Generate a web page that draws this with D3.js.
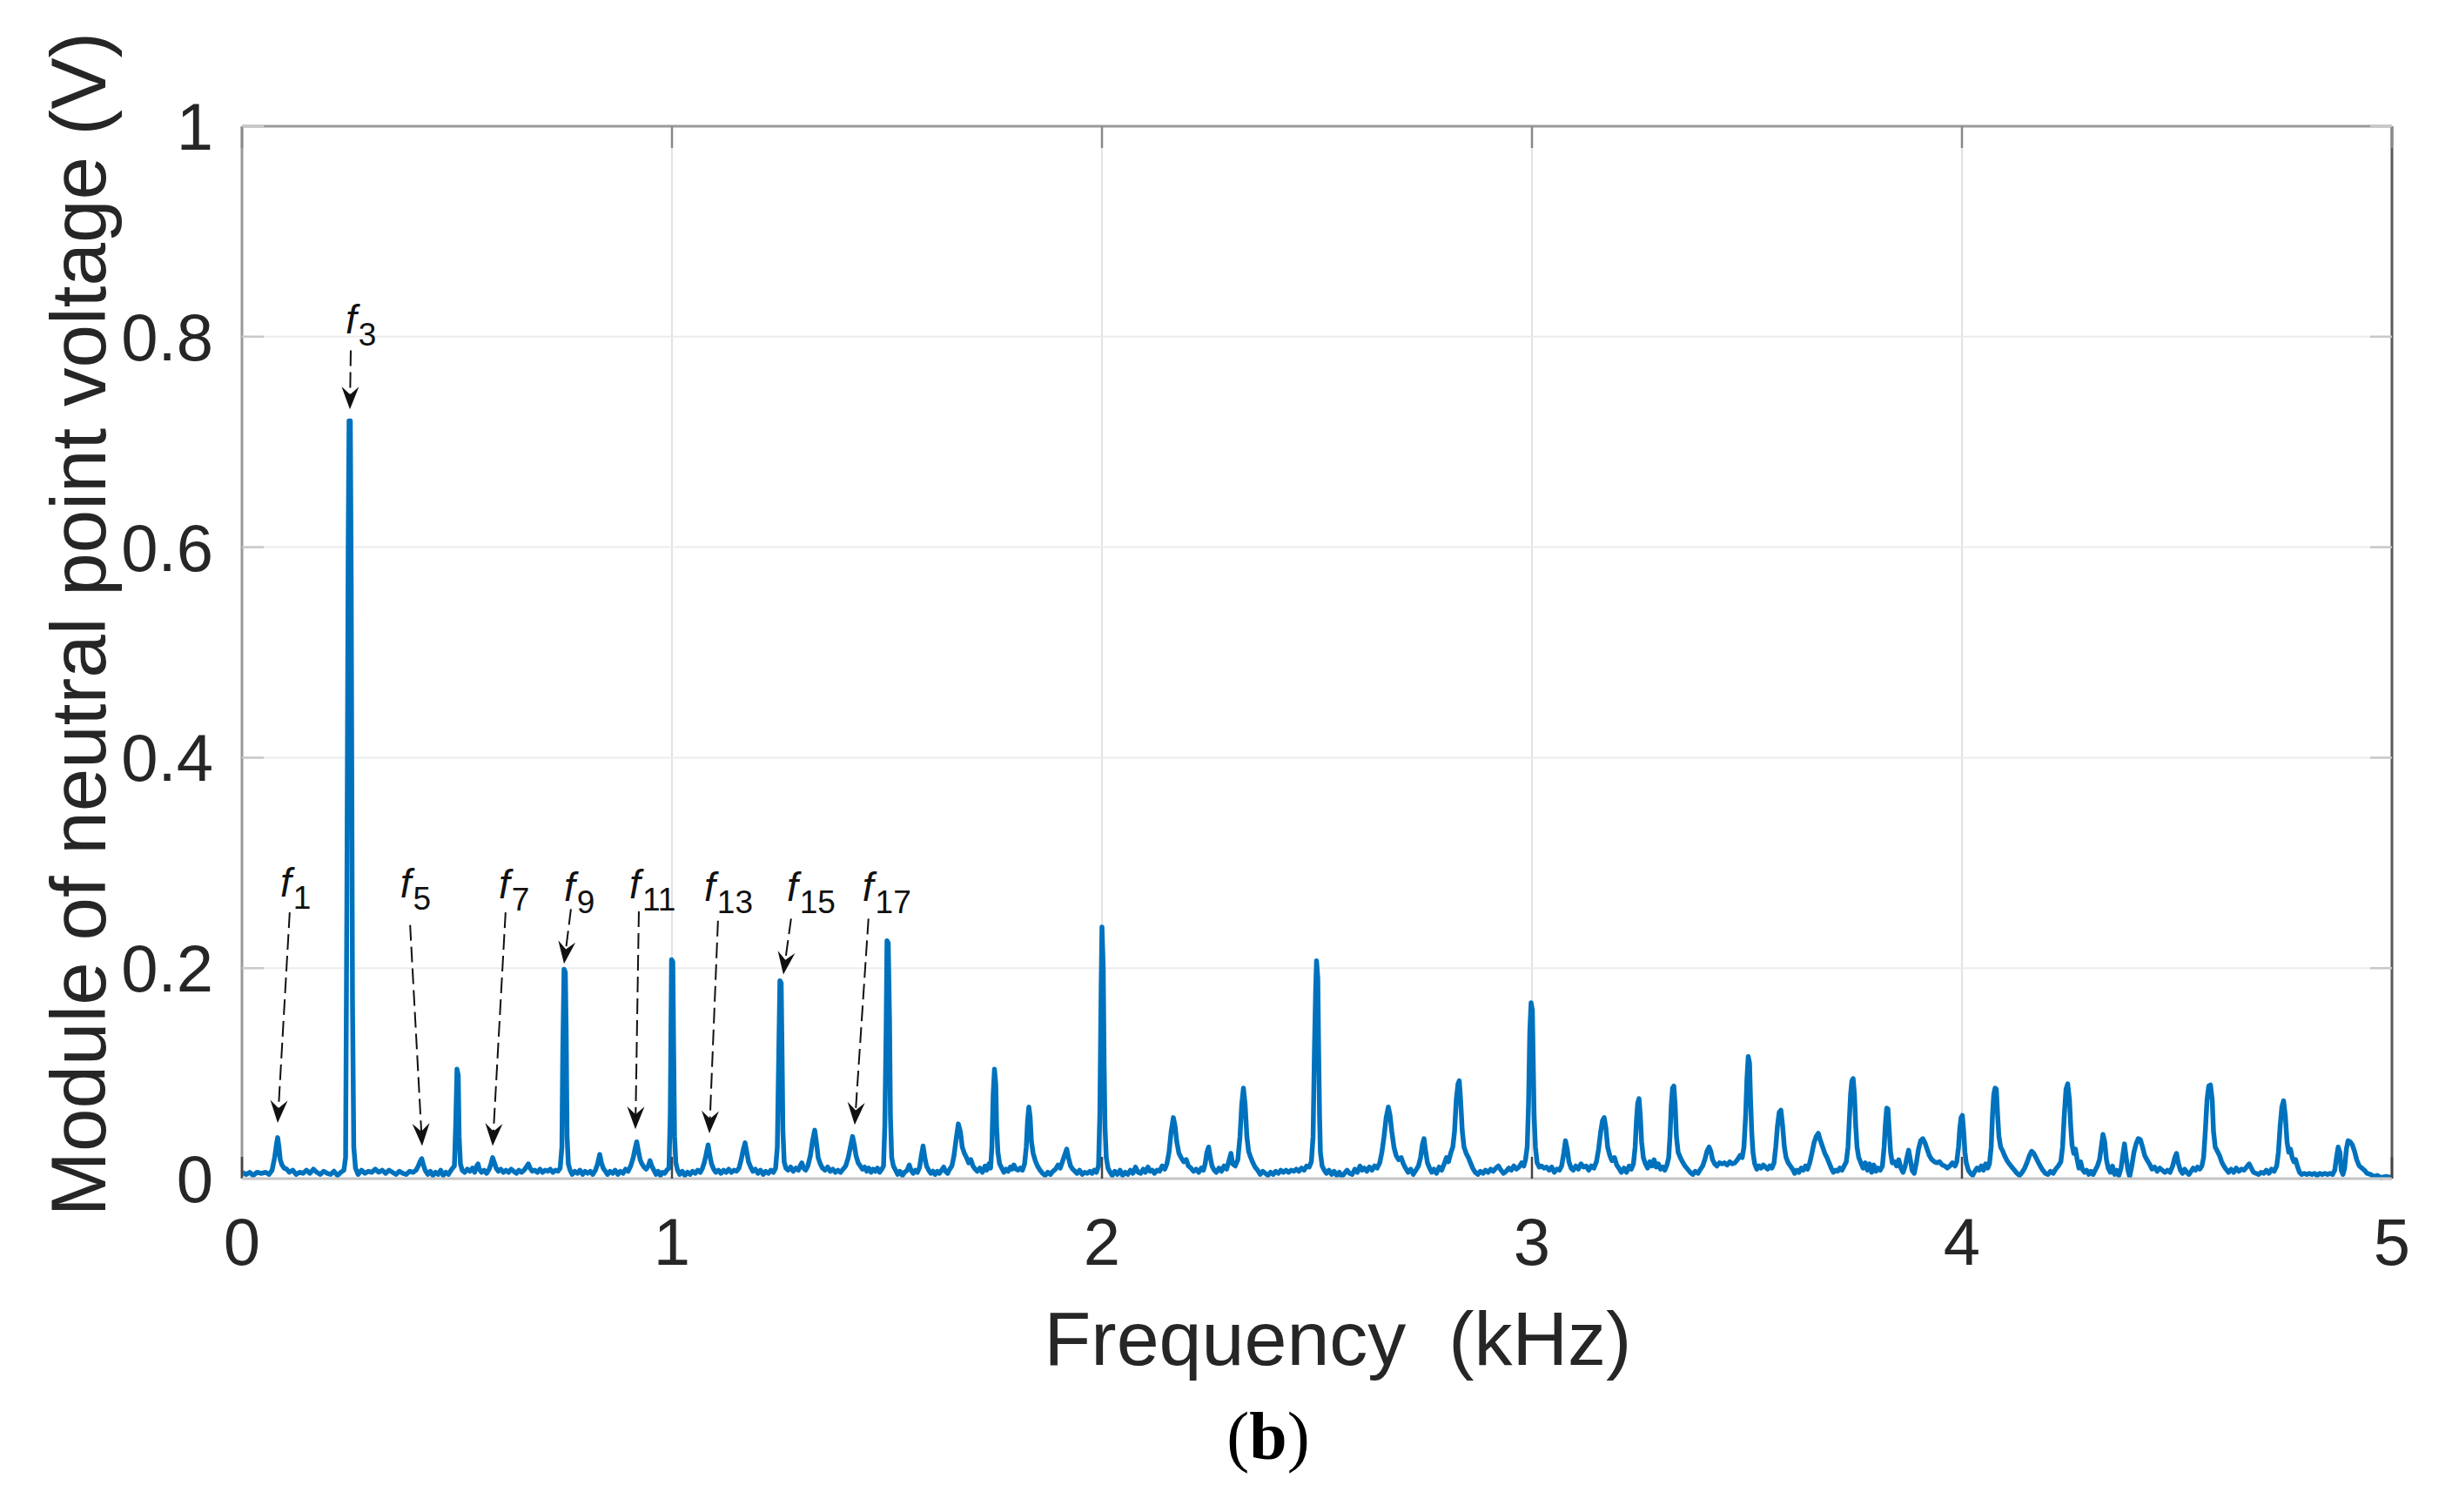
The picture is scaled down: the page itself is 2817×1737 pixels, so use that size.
<!DOCTYPE html>
<html>
<head>
<meta charset="utf-8">
<script src="https://cdn.jsdelivr.net/npm/d3@7"></script>
<style>
  html, body { margin: 0; padding: 0; background: #fff; }
  svg { display: block; }
</style>
</head>
<body>
<svg id="chart" width="2817" height="1737"></svg>
<script>
// ---------------- DATA ----------------
const xTicks = [0, 1, 2, 3, 4, 5];
const yTicks = [0, 0.2, 0.4, 0.6, 0.8, 1];
const yTickLabels = ["0", "0.2", "0.4", "0.6", "0.8", "1"];
const xLabel = "Frequency  (kHz)";
const yLabel = "Module of neutral point voltage (V)";
const panelLabel = "b";

// spectrum: [frequency (kHz), module (V)]
const spectrum = [
[0.000,0.006],[0.010,0.004],[0.018,0.006],[0.026,0.003],[0.035,0.006],[0.045,0.005],[0.055,0.006],[0.063,0.004],[0.070,0.008],[0.076,0.020],[0.080,0.032],[0.083,0.039],[0.086,0.030],[0.089,0.018],[0.093,0.013],[0.098,0.010],[0.104,0.009],[0.110,0.006],[0.118,0.008],[0.126,0.004],[0.134,0.006],[0.142,0.005],[0.150,0.008],[0.158,0.005],[0.166,0.009],[0.174,0.006],[0.182,0.004],[0.190,0.007],[0.198,0.005],[0.206,0.004],[0.214,0.007],[0.222,0.003],[0.230,0.006],[0.237,0.008],[0.241,0.020],[0.244,0.27],[0.247,0.60],[0.249,0.72],[0.252,0.72],[0.254,0.57],[0.257,0.17],[0.260,0.03],[0.264,0.010],[0.270,0.004],[0.278,0.008],[0.286,0.005],[0.294,0.007],[0.302,0.006],[0.310,0.009],[0.318,0.006],[0.326,0.008],[0.334,0.005],[0.342,0.008],[0.350,0.006],[0.358,0.004],[0.366,0.007],[0.374,0.005],[0.382,0.004],[0.390,0.007],[0.398,0.006],[0.405,0.008],[0.410,0.012],[0.414,0.016],[0.418,0.019],[0.422,0.013],[0.426,0.008],[0.432,0.004],[0.438,0.007],[0.444,0.003],[0.450,0.006],[0.456,0.004],[0.462,0.008],[0.468,0.003],[0.474,0.006],[0.480,0.004],[0.488,0.009],[0.494,0.012],[0.497,0.050],[0.500,0.104],[0.503,0.098],[0.505,0.040],
[0.508,0.014],[0.512,0.008],[0.518,0.006],[0.524,0.009],[0.530,0.007],[0.536,0.010],[0.541,0.006],[0.546,0.012],[0.549,0.014],[0.552,0.009],[0.557,0.006],[0.563,0.008],[0.569,0.005],[0.575,0.009],[0.579,0.014],[0.583,0.020],[0.587,0.015],[0.591,0.010],[0.596,0.007],[0.602,0.009],[0.608,0.006],[0.614,0.008],[0.620,0.006],[0.626,0.009],[0.632,0.007],[0.638,0.005],[0.644,0.008],[0.650,0.006],[0.656,0.008],[0.661,0.011],[0.666,0.014],[0.670,0.010],[0.675,0.007],[0.681,0.008],[0.687,0.006],[0.693,0.009],[0.699,0.006],[0.705,0.008],[0.711,0.007],[0.717,0.009],[0.723,0.006],[0.729,0.008],[0.735,0.007],[0.740,0.010],[0.744,0.030],[0.746,0.120],[0.749,0.199],[0.752,0.196],[0.754,0.140],[0.756,0.040],[0.759,0.014],[0.763,0.008],[0.768,0.004],[0.774,0.007],[0.780,0.005],[0.786,0.008],[0.792,0.004],[0.798,0.007],[0.804,0.005],[0.810,0.007],[0.816,0.004],[0.822,0.008],[0.827,0.014],[0.832,0.023],[0.836,0.015],[0.840,0.010],[0.845,0.007],[0.850,0.004],[0.856,0.007],[0.862,0.005],[0.868,0.008],[0.874,0.004],[0.880,0.007],[0.886,0.005],[0.892,0.009],[0.898,0.007],[0.904,0.012],[0.910,0.020],[0.914,0.028],[0.918,0.035],[0.922,0.026],[0.926,0.018],[0.930,0.014],[0.935,0.011],[0.940,0.009],[0.945,0.012],[0.949,0.017],[0.953,0.012],[0.958,0.008],[0.963,0.004],[0.968,0.007],[0.973,0.003],[0.978,0.006],[0.983,0.005],[0.988,0.008],[0.993,0.010],[0.996,0.060],[0.999,0.208],[1.002,0.206],[1.004,0.120],[1.006,0.040],
[1.009,0.015],[1.013,0.008],[1.018,0.004],[1.024,0.007],[1.030,0.003],[1.036,0.006],[1.042,0.004],[1.048,0.007],[1.054,0.005],[1.060,0.008],[1.066,0.006],[1.071,0.010],[1.075,0.015],[1.079,0.022],[1.084,0.032],[1.088,0.022],[1.092,0.014],[1.097,0.009],[1.102,0.006],[1.108,0.008],[1.114,0.005],[1.120,0.008],[1.126,0.006],[1.132,0.009],[1.138,0.006],[1.144,0.008],[1.150,0.007],[1.156,0.010],[1.161,0.018],[1.166,0.028],[1.170,0.034],[1.174,0.025],[1.178,0.016],[1.183,0.011],[1.188,0.007],[1.194,0.009],[1.200,0.005],[1.206,0.008],[1.212,0.004],[1.218,0.007],[1.224,0.005],[1.230,0.008],[1.236,0.006],[1.241,0.010],[1.245,0.030],[1.248,0.110],[1.251,0.188],[1.254,0.186],[1.256,0.120],[1.258,0.045],[1.261,0.016],[1.265,0.010],[1.270,0.008],[1.276,0.011],[1.282,0.007],[1.288,0.010],[1.294,0.008],[1.298,0.012],[1.302,0.015],[1.306,0.010],[1.311,0.008],[1.316,0.012],[1.322,0.022],[1.327,0.036],[1.332,0.046],[1.336,0.034],[1.340,0.020],[1.345,0.014],[1.350,0.010],[1.356,0.008],[1.362,0.011],[1.368,0.007],[1.374,0.009],[1.380,0.006],[1.386,0.008],[1.392,0.006],[1.398,0.009],[1.404,0.012],[1.410,0.020],[1.415,0.030],[1.420,0.040],[1.424,0.032],[1.428,0.022],[1.433,0.015],[1.438,0.012],[1.443,0.009],[1.448,0.011],[1.453,0.007],[1.458,0.010],[1.463,0.006],[1.468,0.009],[1.473,0.007],[1.478,0.010],[1.483,0.006],[1.488,0.009],[1.492,0.012],[1.495,0.050],[1.498,0.140],[1.500,0.226],[1.503,0.224],[1.506,0.150],[1.508,0.060],
[1.511,0.020],[1.515,0.012],[1.520,0.008],[1.525,0.004],[1.530,0.007],[1.536,0.003],[1.541,0.006],[1.547,0.008],[1.552,0.013],[1.556,0.008],[1.561,0.005],[1.566,0.008],[1.571,0.006],[1.576,0.011],[1.580,0.022],[1.584,0.031],[1.588,0.020],[1.592,0.012],[1.597,0.008],[1.602,0.005],[1.607,0.007],[1.612,0.004],[1.617,0.007],[1.622,0.005],[1.627,0.008],[1.632,0.011],[1.636,0.007],[1.641,0.005],[1.646,0.009],[1.651,0.012],[1.656,0.022],[1.661,0.038],[1.666,0.052],[1.671,0.044],[1.675,0.030],[1.680,0.024],[1.685,0.020],[1.690,0.015],[1.695,0.018],[1.700,0.012],[1.705,0.009],[1.710,0.007],[1.716,0.010],[1.722,0.006],[1.728,0.012],[1.732,0.008],[1.737,0.014],[1.741,0.010],[1.744,0.030],[1.747,0.080],[1.750,0.104],[1.753,0.090],[1.755,0.050],[1.758,0.025],[1.762,0.014],[1.767,0.010],[1.772,0.006],[1.777,0.009],[1.782,0.007],[1.787,0.011],[1.791,0.009],[1.795,0.013],[1.800,0.009],[1.805,0.008],[1.810,0.010],[1.815,0.008],[1.820,0.014],[1.824,0.030],[1.827,0.055],[1.830,0.068],[1.833,0.058],[1.836,0.035],[1.840,0.024],[1.845,0.017],[1.850,0.012],[1.856,0.008],[1.862,0.005],[1.868,0.003],[1.874,0.006],[1.880,0.004],[1.886,0.007],[1.892,0.009],[1.898,0.013],[1.903,0.010],[1.908,0.016],[1.913,0.022],[1.918,0.028],[1.922,0.020],[1.927,0.012],[1.932,0.009],[1.937,0.007],[1.942,0.005],[1.948,0.008],[1.954,0.004],[1.960,0.006],[1.966,0.005],[1.972,0.007],[1.977,0.005],[1.982,0.008],[1.987,0.006],[1.992,0.012],[1.995,0.060],[1.998,0.180],[2.000,0.239],[2.003,0.200],[2.005,0.110],[2.007,0.050],
[2.010,0.020],[2.014,0.010],[2.019,0.006],[2.024,0.003],[2.030,0.007],[2.036,0.004],[2.042,0.008],[2.048,0.003],[2.054,0.006],[2.060,0.004],[2.066,0.008],[2.072,0.005],[2.078,0.011],[2.084,0.006],[2.090,0.005],[2.096,0.009],[2.101,0.006],[2.107,0.011],[2.112,0.007],[2.117,0.008],[2.122,0.005],[2.128,0.008],[2.134,0.007],[2.140,0.012],[2.146,0.009],[2.151,0.014],[2.156,0.025],[2.161,0.045],[2.166,0.058],[2.170,0.050],[2.174,0.035],[2.179,0.024],[2.184,0.020],[2.190,0.016],[2.196,0.018],[2.201,0.012],[2.207,0.010],[2.213,0.007],[2.219,0.009],[2.225,0.006],[2.231,0.010],[2.236,0.008],[2.240,0.014],[2.244,0.025],[2.248,0.030],[2.252,0.020],[2.256,0.012],[2.261,0.008],[2.266,0.006],[2.272,0.010],[2.278,0.007],[2.284,0.012],[2.290,0.009],[2.296,0.018],[2.300,0.024],[2.304,0.014],[2.310,0.012],[2.316,0.018],[2.321,0.040],[2.325,0.070],[2.329,0.086],[2.333,0.070],[2.337,0.040],[2.341,0.026],[2.346,0.020],[2.351,0.015],[2.356,0.011],[2.362,0.008],[2.368,0.004],[2.374,0.007],[2.380,0.005],[2.386,0.003],[2.392,0.006],[2.398,0.004],[2.404,0.007],[2.410,0.005],[2.416,0.008],[2.422,0.006],[2.428,0.008],[2.434,0.006],[2.440,0.008],[2.446,0.007],[2.452,0.009],[2.458,0.007],[2.464,0.010],[2.470,0.008],[2.476,0.012],[2.482,0.011],[2.487,0.016],[2.491,0.040],[2.494,0.120],[2.497,0.180],[2.499,0.207],[2.502,0.190],[2.504,0.120],[2.506,0.060],
[2.508,0.025],[2.512,0.012],[2.517,0.008],[2.522,0.005],[2.528,0.008],[2.534,0.004],[2.540,0.007],[2.546,0.003],[2.552,0.006],[2.558,0.002],[2.564,0.005],[2.570,0.008],[2.576,0.005],[2.582,0.004],[2.588,0.009],[2.594,0.006],[2.600,0.012],[2.605,0.008],[2.610,0.010],[2.616,0.007],[2.622,0.011],[2.628,0.008],[2.634,0.012],[2.640,0.010],[2.646,0.015],[2.651,0.025],[2.656,0.040],[2.661,0.058],[2.666,0.068],[2.670,0.060],[2.674,0.045],[2.679,0.030],[2.684,0.022],[2.690,0.018],[2.696,0.020],[2.701,0.014],[2.706,0.010],[2.712,0.006],[2.718,0.009],[2.724,0.004],[2.730,0.008],[2.736,0.012],[2.741,0.020],[2.745,0.032],[2.749,0.038],[2.753,0.025],[2.757,0.015],[2.762,0.010],[2.767,0.006],[2.772,0.009],[2.778,0.005],[2.784,0.011],[2.790,0.008],[2.796,0.014],[2.801,0.020],[2.806,0.016],[2.811,0.024],[2.816,0.030],[2.820,0.045],[2.824,0.075],[2.828,0.090],[2.831,0.093],[2.834,0.075],[2.838,0.045],[2.842,0.030],[2.847,0.024],[2.852,0.020],[2.857,0.015],[2.862,0.010],[2.868,0.006],[2.874,0.004],[2.880,0.007],[2.886,0.005],[2.892,0.008],[2.898,0.006],[2.904,0.009],[2.910,0.007],[2.916,0.010],[2.922,0.012],[2.928,0.008],[2.934,0.005],[2.940,0.007],[2.946,0.010],[2.952,0.008],[2.958,0.012],[2.964,0.009],[2.970,0.011],[2.976,0.015],[2.981,0.012],[2.985,0.018],[2.989,0.030],[2.992,0.070],[2.995,0.140],[2.998,0.167],[3.001,0.160],[3.003,0.110],[3.005,0.060],
[3.008,0.030],[3.012,0.015],[3.017,0.011],[3.022,0.012],[3.028,0.010],[3.034,0.011],[3.040,0.008],[3.046,0.011],[3.052,0.006],[3.058,0.009],[3.064,0.008],[3.069,0.012],[3.074,0.024],[3.078,0.036],[3.082,0.028],[3.086,0.016],[3.091,0.010],[3.096,0.008],[3.102,0.012],[3.108,0.009],[3.114,0.014],[3.120,0.011],[3.126,0.012],[3.132,0.008],[3.138,0.012],[3.144,0.010],[3.150,0.016],[3.155,0.028],[3.160,0.045],[3.164,0.055],[3.168,0.058],[3.172,0.048],[3.176,0.030],[3.181,0.022],[3.186,0.017],[3.192,0.020],[3.197,0.013],[3.202,0.010],[3.208,0.006],[3.214,0.010],[3.220,0.006],[3.226,0.012],[3.231,0.009],[3.236,0.014],[3.240,0.030],[3.243,0.055],[3.246,0.072],[3.249,0.076],[3.252,0.060],[3.255,0.035],[3.259,0.020],[3.264,0.014],[3.269,0.010],[3.274,0.016],[3.279,0.012],[3.284,0.018],[3.289,0.011],[3.294,0.014],[3.299,0.009],[3.304,0.011],[3.309,0.008],[3.314,0.013],[3.318,0.020],[3.321,0.040],[3.324,0.070],[3.327,0.086],[3.330,0.088],[3.333,0.070],[3.336,0.040],[3.340,0.025],[3.345,0.020],[3.350,0.016],[3.356,0.012],[3.362,0.009],[3.368,0.006],[3.374,0.004],[3.380,0.007],[3.386,0.005],[3.392,0.009],[3.397,0.012],[3.402,0.018],[3.407,0.026],[3.412,0.030],[3.416,0.026],[3.420,0.018],[3.425,0.014],[3.430,0.012],[3.436,0.015],[3.442,0.014],[3.448,0.015],[3.454,0.013],[3.460,0.016],[3.466,0.014],[3.472,0.015],[3.478,0.018],[3.484,0.022],[3.489,0.020],[3.493,0.030],[3.497,0.060],[3.500,0.095],[3.503,0.116],[3.506,0.110],[3.508,0.080],[3.511,0.045],
[3.514,0.025],[3.518,0.014],[3.523,0.009],[3.528,0.012],[3.533,0.010],[3.538,0.013],[3.543,0.011],[3.548,0.009],[3.553,0.012],[3.558,0.010],[3.563,0.015],[3.567,0.030],[3.571,0.050],[3.575,0.063],[3.579,0.065],[3.583,0.050],[3.587,0.030],[3.591,0.020],[3.596,0.015],[3.601,0.012],[3.606,0.009],[3.611,0.005],[3.616,0.008],[3.621,0.006],[3.626,0.010],[3.631,0.008],[3.636,0.012],[3.641,0.009],[3.646,0.015],[3.651,0.024],[3.656,0.034],[3.661,0.040],[3.666,0.043],[3.671,0.036],[3.676,0.030],[3.681,0.024],[3.686,0.020],[3.691,0.015],[3.696,0.010],[3.701,0.006],[3.706,0.008],[3.711,0.007],[3.716,0.010],[3.721,0.008],[3.726,0.012],[3.731,0.016],[3.735,0.030],[3.738,0.055],[3.741,0.080],[3.744,0.093],[3.747,0.095],[3.750,0.080],[3.753,0.050],[3.756,0.030],[3.760,0.020],[3.765,0.015],[3.770,0.010],[3.775,0.015],[3.780,0.008],[3.785,0.014],[3.790,0.006],[3.795,0.013],[3.800,0.007],[3.805,0.010],[3.810,0.008],[3.815,0.012],[3.819,0.030],[3.822,0.052],[3.825,0.067],[3.828,0.066],[3.831,0.045],[3.834,0.025],[3.838,0.015],[3.843,0.016],[3.848,0.012],[3.853,0.018],[3.858,0.010],[3.863,0.006],[3.868,0.012],[3.872,0.020],[3.876,0.027],[3.880,0.018],[3.884,0.008],[3.889,0.005],[3.894,0.015],[3.899,0.028],[3.904,0.036],[3.909,0.038],[3.914,0.034],[3.919,0.028],[3.924,0.022],[3.930,0.018],[3.936,0.016],[3.942,0.015],[3.948,0.016],[3.954,0.013],[3.960,0.012],[3.966,0.010],[3.972,0.012],[3.978,0.015],[3.984,0.012],[3.988,0.016],[3.992,0.030],[3.995,0.048],[3.998,0.058],[4.001,0.060],[4.004,0.045],[4.007,0.025],
[4.010,0.015],[4.015,0.008],[4.020,0.005],[4.025,0.003],[4.030,0.007],[4.035,0.010],[4.040,0.008],[4.045,0.012],[4.050,0.008],[4.055,0.014],[4.060,0.010],[4.064,0.014],[4.068,0.030],[4.071,0.060],[4.074,0.080],[4.077,0.086],[4.080,0.085],[4.083,0.060],[4.086,0.040],[4.090,0.030],[4.095,0.026],[4.100,0.021],[4.105,0.017],[4.110,0.014],[4.116,0.011],[4.122,0.008],[4.128,0.005],[4.134,0.003],[4.140,0.006],[4.146,0.010],[4.152,0.016],[4.157,0.022],[4.162,0.026],[4.167,0.024],[4.172,0.020],[4.177,0.016],[4.182,0.012],[4.188,0.008],[4.194,0.005],[4.200,0.004],[4.206,0.007],[4.212,0.005],[4.218,0.009],[4.224,0.012],[4.230,0.016],[4.234,0.030],[4.238,0.060],[4.242,0.085],[4.246,0.090],[4.250,0.075],[4.253,0.050],[4.256,0.032],[4.260,0.024],[4.264,0.028],[4.268,0.018],[4.272,0.010],[4.276,0.016],[4.280,0.009],[4.285,0.006],[4.290,0.008],[4.295,0.004],[4.300,0.007],[4.305,0.004],[4.310,0.008],[4.315,0.012],[4.320,0.018],[4.324,0.030],[4.328,0.042],[4.332,0.035],[4.336,0.018],[4.340,0.010],[4.345,0.006],[4.350,0.012],[4.355,0.004],[4.360,0.008],[4.365,0.003],[4.370,0.010],[4.374,0.022],[4.378,0.033],[4.382,0.020],[4.386,0.008],[4.390,0.002],[4.395,0.012],[4.400,0.025],[4.405,0.033],[4.410,0.038],[4.415,0.037],[4.420,0.030],[4.425,0.022],[4.430,0.018],[4.436,0.014],[4.442,0.009],[4.448,0.011],[4.454,0.007],[4.460,0.010],[4.466,0.008],[4.472,0.006],[4.478,0.008],[4.484,0.006],[4.490,0.012],[4.495,0.020],[4.499,0.024],
[4.503,0.015],[4.508,0.008],[4.513,0.005],[4.518,0.009],[4.523,0.006],[4.528,0.004],[4.533,0.007],[4.538,0.010],[4.543,0.008],[4.548,0.011],[4.553,0.009],[4.558,0.012],[4.562,0.020],[4.566,0.045],[4.570,0.075],[4.574,0.088],[4.578,0.089],[4.582,0.075],[4.585,0.045],[4.589,0.030],[4.594,0.026],[4.599,0.022],[4.604,0.016],[4.609,0.012],[4.614,0.009],[4.620,0.006],[4.626,0.009],[4.632,0.006],[4.638,0.010],[4.644,0.007],[4.650,0.009],[4.656,0.008],[4.662,0.011],[4.668,0.014],[4.673,0.010],[4.678,0.006],[4.684,0.005],[4.690,0.004],[4.696,0.006],[4.702,0.005],[4.708,0.008],[4.714,0.005],[4.720,0.009],[4.726,0.007],[4.732,0.012],[4.736,0.025],[4.740,0.050],[4.744,0.068],[4.748,0.074],[4.752,0.060],[4.756,0.035],[4.760,0.025],[4.764,0.028],[4.768,0.020],[4.772,0.016],[4.776,0.018],[4.780,0.012],[4.785,0.006],[4.790,0.004],[4.796,0.005],[4.802,0.004],[4.808,0.005],[4.814,0.004],[4.820,0.005],[4.826,0.003],[4.832,0.005],[4.838,0.004],[4.844,0.005],[4.850,0.004],[4.856,0.005],[4.862,0.004],[4.867,0.008],[4.871,0.020],[4.875,0.030],[4.879,0.025],[4.882,0.008],[4.886,0.004],[4.890,0.010],[4.894,0.028],[4.898,0.036],[4.903,0.035],[4.908,0.032],[4.913,0.026],[4.918,0.018],[4.924,0.012],[4.930,0.010],[4.936,0.008],[4.942,0.005],[4.950,0.004],[4.958,0.002],[4.966,0.003],[4.975,0.001],[4.985,0.002],[5.000,0.001]
];

// harmonic annotations (data coordinates: kHz, V)
const harmonicOrders = ["1", "3", "5", "7", "9", "11", "13", "15", "17"];
const labelAnchors = [[0.089,0.268],[0.241,0.803],[0.368,0.267],[0.597,0.266],[0.749,0.264],[0.901,0.266],[1.075,0.264],[1.267,0.264],[1.443,0.264]];
const arrowTails   = [[0.111,0.253],[0.253,0.787],[0.391,0.241],[0.613,0.253],[0.765,0.256],[0.923,0.254],[1.107,0.245],[1.277,0.247],[1.457,0.247]];
const arrowTips    = [[0.083,0.053],[0.251,0.731],[0.419,0.031],[0.583,0.031],[0.749,0.204],[0.915,0.047],[1.087,0.043],[1.259,0.194],[1.425,0.051]];

// ---------------- LAYOUT ----------------
const L = 278, R = 2748, T = 145, B = 1354;
const FONT = "'Liberation Sans', Arial, Helvetica, sans-serif";

const svg = d3.select("#chart");
const x = d3.scaleLinear().domain([0, 5]).range([L, R]);
const y = d3.scaleLinear().domain([0, 1]).range([B, T]);

svg.append("rect").attr("width", 2817).attr("height", 1737).attr("fill", "#fff");

// grid
const grid = svg.append("g");
grid.selectAll("line.gx").data(xTicks.slice(1, -1)).enter().append("line")
  .attr("x1", d => x(d)).attr("x2", d => x(d)).attr("y1", T).attr("y2", B)
  .attr("stroke", "#e2e2e2").attr("stroke-width", 2);
grid.selectAll("line.gy").data(yTicks.slice(1, -1)).enter().append("line")
  .attr("x1", L).attr("x2", R).attr("y1", d => y(d)).attr("y2", d => y(d))
  .attr("stroke", "#ececec").attr("stroke-width", 2);

// clip
svg.append("clipPath").attr("id", "plotclip").append("rect")
  .attr("x", L).attr("y", T - 2).attr("width", R - L).attr("height", B - T + 6);

// spectrum line
const line = d3.line().x(d => x(d[0])).y(d => y(d[1]));
svg.append("path").datum(spectrum)
  .attr("clip-path", "url(#plotclip)")
  .attr("d", line)
  .attr("fill", "none").attr("stroke", "#0072BD")
  .attr("stroke-width", 5.5).attr("stroke-linejoin", "round");

// axes box
const box = svg.append("g").attr("fill", "none").attr("stroke-width", 3);
box.append("line").attr("x1", L).attr("x2", R).attr("y1", T).attr("y2", T).attr("stroke", "#9a9a9a");
box.append("line").attr("x1", L).attr("x2", L).attr("y1", T).attr("y2", B).attr("stroke", "#9a9a9a");
box.append("line").attr("x1", L).attr("x2", R).attr("y1", B).attr("y2", B).attr("stroke", "#c4c4c4");
box.append("line").attr("x1", R).attr("x2", R).attr("y1", T).attr("y2", B).attr("stroke", "#5a5a5a");

// ticks (inward)
const tickLen = 25;
const ticks = svg.append("g").attr("stroke-width", 2.5);
ticks.selectAll("line.xb").data(xTicks).enter().append("line")
  .attr("x1", d => x(d)).attr("x2", d => x(d)).attr("y1", B).attr("y2", B - tickLen).attr("stroke", "#444");
ticks.selectAll("line.xt").data(xTicks).enter().append("line")
  .attr("x1", d => x(d)).attr("x2", d => x(d)).attr("y1", T).attr("y2", T + tickLen).attr("stroke", "#888");
ticks.selectAll("line.yl").data(yTicks).enter().append("line")
  .attr("x1", L).attr("x2", L + tickLen).attr("y1", d => y(d)).attr("y2", d => y(d)).attr("stroke", "#c8c8c8");
ticks.selectAll("line.yr").data(yTicks).enter().append("line")
  .attr("x1", R).attr("x2", R - tickLen).attr("y1", d => y(d)).attr("y2", d => y(d)).attr("stroke", "#c8c8c8");

// tick labels
const tickFont = 76;
svg.append("g").selectAll("text").data(xTicks).enter().append("text")
  .attr("x", d => x(d)).attr("y", B + 99)
  .attr("text-anchor", "middle").attr("font-family", FONT).attr("font-size", tickFont)
  .attr("fill", "#262626").text(d => d);
svg.append("g").selectAll("text").data(yTicks).enter().append("text")
  .attr("x", L - 33).attr("y", d => y(d) + 27)
  .attr("text-anchor", "end").attr("font-family", FONT).attr("font-size", tickFont)
  .attr("fill", "#262626").text((d, i) => yTickLabels[i]);

// axis labels
svg.append("text").attr("x", 1537).attr("y", 1568)
  .attr("text-anchor", "middle").attr("font-family", FONT).attr("font-size", 88)
  .attr("fill", "#262626").style("white-space", "pre").text(xLabel);
svg.append("text").attr("transform", "translate(121,717) rotate(-90)")
  .attr("text-anchor", "middle").attr("font-family", FONT).attr("font-size", 89)
  .attr("fill", "#262626").text(yLabel);

// panel label
const pl = svg.append("text").attr("x", 1457).attr("y", 1676)
  .attr("text-anchor", "middle").attr("font-family", "'Liberation Serif', 'Times New Roman', serif")
  .attr("font-size", 78).attr("fill", "#000");
pl.append("tspan").text("(");
pl.append("tspan").attr("font-weight", "bold").text(panelLabel);
pl.append("tspan").text(")");

// annotations
const ann = svg.append("g");
harmonicOrders.forEach((n, i) => {
  const t = ann.append("text").attr("x", x(labelAnchors[i][0])).attr("y", y(labelAnchors[i][1]))
    .attr("font-family", FONT).attr("fill", "#111");
  t.append("tspan").attr("font-style", "italic").attr("font-size", 46).text("f");
  t.append("tspan").attr("font-size", 37).attr("dy", 14).attr("dx", 2).text(n);

  const x0 = x(arrowTails[i][0]), y0 = y(arrowTails[i][1]);
  const x1 = x(arrowTips[i][0]), y1 = y(arrowTips[i][1]);
  const ang = Math.atan2(y1 - y0, x1 - x0);
  const headL = 26, headW = 20;
  const sx = x1 - Math.cos(ang) * headL * 0.6, sy = y1 - Math.sin(ang) * headL * 0.6;
  ann.append("line").attr("x1", x0).attr("y1", y0).attr("x2", sx).attr("y2", sy)
    .attr("stroke", "#111").attr("stroke-width", 2).attr("stroke-dasharray", "18,7");
  const deg = ang * 180 / Math.PI;
  ann.append("path")
    .attr("d", `M0,0 L${-headL},${-headW / 2} L${-headL * 0.65},0 L${-headL},${headW / 2} Z`)
    .attr("transform", `translate(${x1},${y1}) rotate(${deg})`)
    .attr("fill", "#111");
});
</script>
</body>
</html>
